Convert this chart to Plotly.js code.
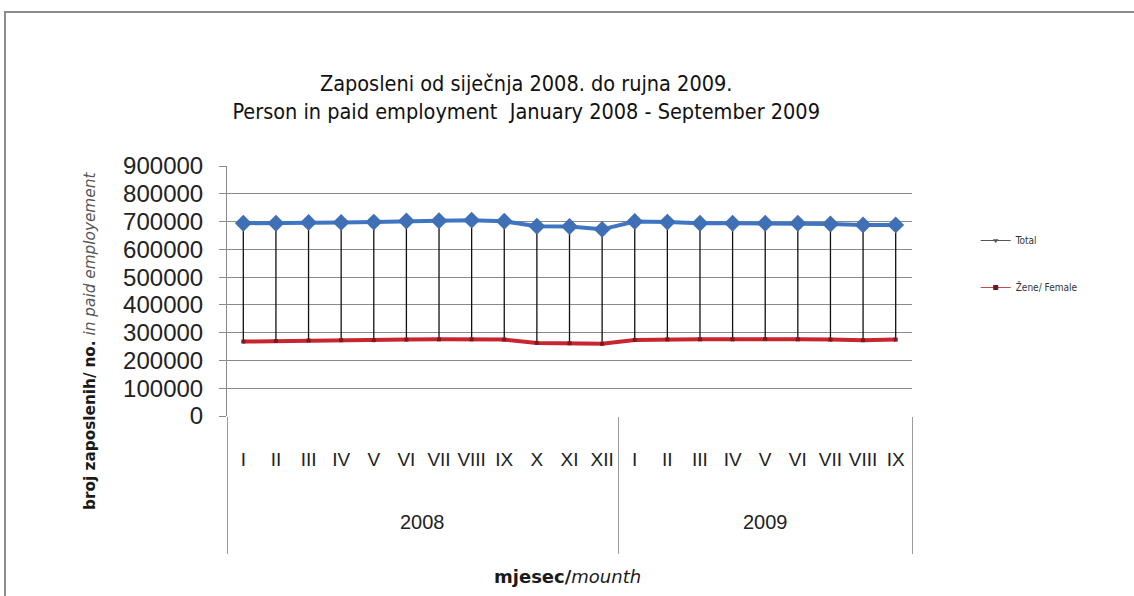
<!DOCTYPE html>
<html>
<head>
<meta charset="utf-8">
<script src="https://cdn.plot.ly/plotly-3.0.1.min.js"></script>
<style>
  html, body { margin: 0; padding: 0; background: #ffffff; }
  #frame { position: absolute; left: 4px; top: 11px; width: 1140px; height: 600px;
           border-left: 2px solid #8c8c8c; border-top: 2px solid #8c8c8c; }
  #chart { position: absolute; left: 0; top: 0; width: 1134px; height: 596px; }
</style>
</head>
<body>
<div id="frame"></div>
<div id="chart"></div>
<script>
// ---- data ----
const yearLabels  = ['2008','2008','2008','2008','2008','2008','2008','2008','2008','2008','2008','2008',
                     '2009','2009','2009','2009','2009','2009','2009','2009','2009'];
const monthLabels = ['I','II','III','IV','V','VI','VII','VIII','IX','X','XI','XII',
                     'I','II','III','IV','V','VI','VII','VIII','IX'];
const totalValues  = [694000, 694000, 697000, 697000, 698000, 702000, 703000, 705000, 701000, 683000, 682000, 672000,
                      700000, 698000, 694000, 694000, 694000, 694000, 691000, 688000, 688000];
const femaleValues = [268000, 270000, 272000, 273000, 273000, 275000, 276000, 276000, 275000, 263000, 262000, 260000,
                      274000, 276000, 276000, 276000, 277000, 276000, 275000, 273000, 275000];
const yTickValues = [0, 100000, 200000, 300000, 400000, 500000, 600000, 700000, 800000, 900000];

// positions of each month on the category scale
const idx = monthLabels.map((_, i) => i);
const dropDown = totalValues.map((v, i) => v - femaleValues[i]);
const zeros = totalValues.map(() => 0);

// year groups: boundaries and centers derived from yearLabels
const groups = [];
yearLabels.forEach((y, i) => {
  if (!groups.length || groups[groups.length - 1].year !== y) groups.push({ year: y, start: i, end: i });
  else groups[groups.length - 1].end = i;
});
const boundaries = [-0.5].concat(groups.map(g => g.end + 0.5));
const centers = groups.map(g => (g.start + g.end) / 2);

const FONT = 'Liberation Sans, Arial, sans-serif';
const WIDE = 'DejaVu Sans, Verdana, sans-serif';
const NARROW = 'DejaVu Sans Condensed, Liberation Sans Narrow, Arial Narrow, sans-serif';
const xRange = [-0.5, monthLabels.length - 0.5];

const traces = [
  {
    type: 'scatter', mode: 'lines+markers', name: 'Total', showlegend: false,
    x: idx, y: totalValues,
    line: { color: '#3f76c4', width: 4 },
    marker: { symbol: 'diamond', size: 13, color: '#3f6fb5' },
    error_y: { type: 'data', symmetric: false, array: zeros, arrayminus: dropDown,
               color: '#111111', thickness: 1.3, width: 0 }
  },
  {
    type: 'scatter', mode: 'lines+markers', name: 'Žene/ Female', showlegend: false,
    x: idx, y: femaleValues,
    line: { color: '#c8262e', width: 4 },
    marker: { symbol: 'square', size: 4, color: '#7a1a20' }
  },
  // holder so the divider axis is drawn
  { type: 'scatter', mode: 'markers', x: [null], y: [null], xaxis: 'x2', showlegend: false, hoverinfo: 'skip' },
  // legend samples
  {
    type: 'scatter', mode: 'lines+markers', name: 'Total', legendgroup: 'a',
    x: [null], y: [null],
    line: { color: '#555555', width: 1 },
    marker: { symbol: 'triangle-down', size: 5, color: '#555555' }
  },
  {
    type: 'scatter', mode: 'lines+markers', name: 'Žene/ Female', legendgroup: 'b',
    x: [null], y: [null],
    line: { color: '#c0504d', width: 1.2 },
    marker: { symbol: 'square', size: 5, color: '#6a1a22' }
  }
];

const layout = {
  width: 1134, height: 596,
  paper_bgcolor: 'rgba(0,0,0,0)', plot_bgcolor: '#ffffff',
  margin: { l: 227, r: 222, t: 166, b: 180 },
  font: { family: FONT, color: '#1a1a1a' },
  title: {
    text: 'Zaposleni od siječnja 2008. do rujna 2009.<br>Person in paid employment  January 2008 - September 2009',
    font: { family: NARROW, size: 21.5, color: '#111111' },
    x: 0.464, xanchor: 'center', y: 0.848, yanchor: 'middle'
  },
  xaxis: {
    range: xRange,
    tickmode: 'array', tickvals: idx, ticktext: monthLabels,
    tickfont: { family: FONT, size: 19, color: '#222222' },
    ticklabelstandoff: 30,
    showgrid: false, ticks: '', zeroline: false, showline: false
  },
  xaxis2: {
    overlaying: 'x', anchor: 'y', side: 'bottom',
    range: xRange,
    tickmode: 'array', tickvals: boundaries, showticklabels: false,
    ticks: 'outside', ticklen: 137, tickwidth: 1, tickcolor: '#9a9a9a',
    showgrid: false, zeroline: false, showline: false
  },
  yaxis: {
    range: [0, 900000],
    tickvals: yTickValues,
    ticktext: yTickValues.map(String),
    tickfont: { family: FONT, size: 24, color: '#222222' },
    showgrid: true, gridcolor: '#8a8a8a', gridwidth: 1,
    zeroline: false, showline: true, linecolor: '#8a8a8a', linewidth: 1,
    ticks: 'outside', ticklen: 7, tickcolor: '#8a8a8a', ticklabelstandoff: 11
  },
  legend: {
    x: 1.093, xanchor: 'left', y: 0.76, yanchor: 'top',
    font: { family: NARROW, size: 10, color: '#333333' },
    traceorder: 'grouped', tracegroupgap: 28,
    bgcolor: 'rgba(0,0,0,0)'
  },
  annotations: groups.map((g, k) => ({
      text: g.year, xref: 'x', yref: 'paper', x: centers[k], y: -0.424,
      xanchor: 'center', yanchor: 'middle', showarrow: false,
      font: { family: FONT, size: 20, color: '#222222' }
    })).concat([
    {
      text: '<b>broj zaposlenih/</b> <b>no.</b> <i style="color:#555">in paid employement</i>',
      xref: 'paper', yref: 'paper', x: -0.2, y: 0.3,
      xanchor: 'center', yanchor: 'middle', textangle: -90, showarrow: false,
      font: { family: WIDE, size: 15.3, color: '#1a1a1a' }
    },
    {
      text: '<b>mjesec/</b><i>mounth</i>',
      xref: 'paper', yref: 'paper', x: 0.497, y: -0.64,
      xanchor: 'center', yanchor: 'middle', showarrow: false,
      font: { family: WIDE, size: 18, color: '#1a1a1a' }
    }
  ])
};

Plotly.newPlot('chart', traces, layout, { displayModeBar: false, staticPlot: true });
</script>
</body>
</html>
